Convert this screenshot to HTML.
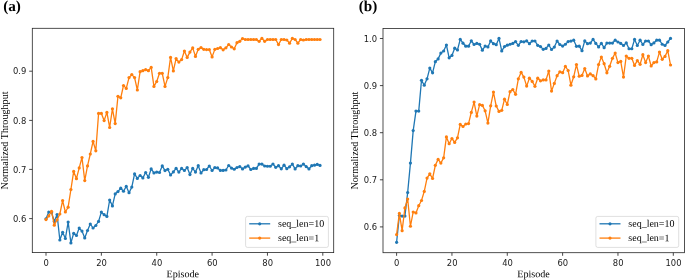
<!DOCTYPE html>
<html><head><meta charset="utf-8"><title>Normalized Throughput</title>
<style>
html,body{margin:0;padding:0;background:#fff;}
svg{display:block}
.tk{font-family:"DejaVu Sans","Liberation Sans",sans-serif;font-size:8.4px;fill:#1a1a1a}
.lb{font-family:"Liberation Serif",serif;font-size:10.15px;fill:#000}
.lg{font-family:"Liberation Serif",serif;font-size:10px;fill:#000}
.ti{font-family:"Liberation Serif",serif;font-size:15.2px;font-weight:bold;fill:#000}
</style></head><body>
<svg width="685" height="280" viewBox="0 0 685 280">
<rect width="685" height="280" fill="#fff"/>
<path d="M46.00 218.80 L48.77 212.00 L51.54 212.50 L54.30 221.40 L57.07 214.50 L59.84 240.00 L62.61 232.30 L65.38 238.50 L68.14 222.10 L70.91 242.90 L73.68 233.30 L76.45 235.50 L79.22 228.10 L81.98 231.10 L84.75 237.90 L87.52 230.50 L90.29 224.00 L93.06 228.00 L95.82 225.50 L98.59 221.40 L101.36 212.10 L104.13 214.70 L106.90 216.40 L109.66 200.00 L112.43 205.90 L115.20 193.90 L117.97 191.60 L120.74 188.20 L123.50 191.25 L126.27 186.40 L129.04 192.70 L131.81 187.10 L134.58 173.90 L137.34 178.40 L140.11 175.50 L142.88 177.90 L145.65 172.50 L148.42 177.30 L151.18 168.90 L153.95 172.90 L156.72 172.10 L159.49 172.50 L162.26 165.90 L165.02 170.60 L167.79 169.25 L170.56 175.00 L173.33 171.90 L176.10 168.40 L178.86 172.10 L181.63 168.40 L184.40 170.50 L187.17 167.60 L189.94 174.60 L192.70 168.40 L195.47 172.10 L198.24 165.70 L201.01 173.00 L203.78 169.70 L206.54 169.50 L209.31 166.00 L212.08 170.50 L214.85 167.60 L217.62 167.90 L220.38 170.40 L223.15 170.40 L225.92 170.00 L228.69 165.50 L231.46 168.10 L234.22 169.25 L236.99 167.50 L239.76 166.60 L242.53 168.90 L245.30 167.10 L248.06 165.90 L250.83 169.50 L253.60 168.40 L256.37 168.40 L259.14 164.10 L261.90 164.10 L264.67 166.00 L267.44 166.25 L270.21 166.25 L272.98 164.00 L275.74 167.30 L278.51 165.70 L281.28 168.80 L284.05 165.20 L286.82 168.70 L289.58 166.80 L292.35 164.10 L295.12 168.90 L297.89 165.70 L300.66 166.00 L303.42 164.10 L306.19 166.60 L308.96 168.90 L311.73 165.70 L314.50 165.20 L317.26 164.40 L320.03 165.40" fill="none" stroke="#1f77b4" stroke-width="1.3" stroke-linejoin="round" stroke-linecap="butt"/>
<g fill="#1f77b4"><circle cx="46.00" cy="218.80" r="1.6"/><circle cx="48.77" cy="212.00" r="1.6"/><circle cx="51.54" cy="212.50" r="1.6"/><circle cx="54.30" cy="221.40" r="1.6"/><circle cx="57.07" cy="214.50" r="1.6"/><circle cx="59.84" cy="240.00" r="1.6"/><circle cx="62.61" cy="232.30" r="1.6"/><circle cx="65.38" cy="238.50" r="1.6"/><circle cx="68.14" cy="222.10" r="1.6"/><circle cx="70.91" cy="242.90" r="1.6"/><circle cx="73.68" cy="233.30" r="1.6"/><circle cx="76.45" cy="235.50" r="1.6"/><circle cx="79.22" cy="228.10" r="1.6"/><circle cx="81.98" cy="231.10" r="1.6"/><circle cx="84.75" cy="237.90" r="1.6"/><circle cx="87.52" cy="230.50" r="1.6"/><circle cx="90.29" cy="224.00" r="1.6"/><circle cx="93.06" cy="228.00" r="1.6"/><circle cx="95.82" cy="225.50" r="1.6"/><circle cx="98.59" cy="221.40" r="1.6"/><circle cx="101.36" cy="212.10" r="1.6"/><circle cx="104.13" cy="214.70" r="1.6"/><circle cx="106.90" cy="216.40" r="1.6"/><circle cx="109.66" cy="200.00" r="1.6"/><circle cx="112.43" cy="205.90" r="1.6"/><circle cx="115.20" cy="193.90" r="1.6"/><circle cx="117.97" cy="191.60" r="1.6"/><circle cx="120.74" cy="188.20" r="1.6"/><circle cx="123.50" cy="191.25" r="1.6"/><circle cx="126.27" cy="186.40" r="1.6"/><circle cx="129.04" cy="192.70" r="1.6"/><circle cx="131.81" cy="187.10" r="1.6"/><circle cx="134.58" cy="173.90" r="1.6"/><circle cx="137.34" cy="178.40" r="1.6"/><circle cx="140.11" cy="175.50" r="1.6"/><circle cx="142.88" cy="177.90" r="1.6"/><circle cx="145.65" cy="172.50" r="1.6"/><circle cx="148.42" cy="177.30" r="1.6"/><circle cx="151.18" cy="168.90" r="1.6"/><circle cx="153.95" cy="172.90" r="1.6"/><circle cx="156.72" cy="172.10" r="1.6"/><circle cx="159.49" cy="172.50" r="1.6"/><circle cx="162.26" cy="165.90" r="1.6"/><circle cx="165.02" cy="170.60" r="1.6"/><circle cx="167.79" cy="169.25" r="1.6"/><circle cx="170.56" cy="175.00" r="1.6"/><circle cx="173.33" cy="171.90" r="1.6"/><circle cx="176.10" cy="168.40" r="1.6"/><circle cx="178.86" cy="172.10" r="1.6"/><circle cx="181.63" cy="168.40" r="1.6"/><circle cx="184.40" cy="170.50" r="1.6"/><circle cx="187.17" cy="167.60" r="1.6"/><circle cx="189.94" cy="174.60" r="1.6"/><circle cx="192.70" cy="168.40" r="1.6"/><circle cx="195.47" cy="172.10" r="1.6"/><circle cx="198.24" cy="165.70" r="1.6"/><circle cx="201.01" cy="173.00" r="1.6"/><circle cx="203.78" cy="169.70" r="1.6"/><circle cx="206.54" cy="169.50" r="1.6"/><circle cx="209.31" cy="166.00" r="1.6"/><circle cx="212.08" cy="170.50" r="1.6"/><circle cx="214.85" cy="167.60" r="1.6"/><circle cx="217.62" cy="167.90" r="1.6"/><circle cx="220.38" cy="170.40" r="1.6"/><circle cx="223.15" cy="170.40" r="1.6"/><circle cx="225.92" cy="170.00" r="1.6"/><circle cx="228.69" cy="165.50" r="1.6"/><circle cx="231.46" cy="168.10" r="1.6"/><circle cx="234.22" cy="169.25" r="1.6"/><circle cx="236.99" cy="167.50" r="1.6"/><circle cx="239.76" cy="166.60" r="1.6"/><circle cx="242.53" cy="168.90" r="1.6"/><circle cx="245.30" cy="167.10" r="1.6"/><circle cx="248.06" cy="165.90" r="1.6"/><circle cx="250.83" cy="169.50" r="1.6"/><circle cx="253.60" cy="168.40" r="1.6"/><circle cx="256.37" cy="168.40" r="1.6"/><circle cx="259.14" cy="164.10" r="1.6"/><circle cx="261.90" cy="164.10" r="1.6"/><circle cx="264.67" cy="166.00" r="1.6"/><circle cx="267.44" cy="166.25" r="1.6"/><circle cx="270.21" cy="166.25" r="1.6"/><circle cx="272.98" cy="164.00" r="1.6"/><circle cx="275.74" cy="167.30" r="1.6"/><circle cx="278.51" cy="165.70" r="1.6"/><circle cx="281.28" cy="168.80" r="1.6"/><circle cx="284.05" cy="165.20" r="1.6"/><circle cx="286.82" cy="168.70" r="1.6"/><circle cx="289.58" cy="166.80" r="1.6"/><circle cx="292.35" cy="164.10" r="1.6"/><circle cx="295.12" cy="168.90" r="1.6"/><circle cx="297.89" cy="165.70" r="1.6"/><circle cx="300.66" cy="166.00" r="1.6"/><circle cx="303.42" cy="164.10" r="1.6"/><circle cx="306.19" cy="166.60" r="1.6"/><circle cx="308.96" cy="168.90" r="1.6"/><circle cx="311.73" cy="165.70" r="1.6"/><circle cx="314.50" cy="165.20" r="1.6"/><circle cx="317.26" cy="164.40" r="1.6"/><circle cx="320.03" cy="165.40" r="1.6"/></g>
<path d="M46.00 219.60 L48.77 215.90 L51.54 211.25 L54.30 225.20 L57.07 219.80 L59.84 214.00 L62.61 200.60 L65.38 212.00 L68.14 207.20 L70.91 189.50 L73.68 171.40 L76.45 178.70 L79.22 167.90 L81.98 157.50 L84.75 180.60 L87.52 165.90 L90.29 154.00 L93.06 141.40 L95.82 150.80 L98.59 113.40 L101.36 113.40 L104.13 120.60 L106.90 112.40 L109.66 127.50 L112.43 108.80 L115.20 123.60 L117.97 96.30 L120.74 97.80 L123.50 85.50 L126.27 88.40 L129.04 77.60 L131.81 74.60 L134.58 77.60 L137.34 90.00 L140.11 71.70 L142.88 70.70 L145.65 69.70 L148.42 70.70 L151.18 67.40 L153.95 86.40 L156.72 81.50 L159.49 73.30 L162.26 73.30 L165.02 86.40 L167.79 77.60 L170.56 57.40 L173.33 70.90 L176.10 58.60 L178.86 62.10 L181.63 59.60 L184.40 51.00 L187.17 57.40 L189.94 52.10 L192.70 47.90 L195.47 56.40 L198.24 49.30 L201.01 47.60 L203.78 49.30 L206.54 49.60 L209.31 49.60 L212.08 56.90 L214.85 49.35 L217.62 48.50 L220.38 47.70 L223.15 49.80 L225.92 47.80 L228.69 44.50 L231.46 47.00 L234.22 48.80 L236.99 42.70 L239.76 41.30 L242.53 38.60 L245.30 39.50 L248.06 39.50 L250.83 39.50 L253.60 39.50 L256.37 39.50 L259.14 41.30 L261.90 38.40 L264.67 41.30 L267.44 39.50 L270.21 39.50 L272.98 39.50 L275.74 39.50 L278.51 44.60 L281.28 39.50 L284.05 39.50 L286.82 40.00 L289.58 43.20 L292.35 38.40 L295.12 39.50 L297.89 43.20 L300.66 39.50 L303.42 40.00 L306.19 39.50 L308.96 39.50 L311.73 39.50 L314.50 39.50 L317.26 39.50 L320.03 39.50" fill="none" stroke="#ff7f0e" stroke-width="1.3" stroke-linejoin="round" stroke-linecap="butt"/>
<g fill="#ff7f0e"><circle cx="46.00" cy="219.60" r="1.6"/><circle cx="48.77" cy="215.90" r="1.6"/><circle cx="51.54" cy="211.25" r="1.6"/><circle cx="54.30" cy="225.20" r="1.6"/><circle cx="57.07" cy="219.80" r="1.6"/><circle cx="59.84" cy="214.00" r="1.6"/><circle cx="62.61" cy="200.60" r="1.6"/><circle cx="65.38" cy="212.00" r="1.6"/><circle cx="68.14" cy="207.20" r="1.6"/><circle cx="70.91" cy="189.50" r="1.6"/><circle cx="73.68" cy="171.40" r="1.6"/><circle cx="76.45" cy="178.70" r="1.6"/><circle cx="79.22" cy="167.90" r="1.6"/><circle cx="81.98" cy="157.50" r="1.6"/><circle cx="84.75" cy="180.60" r="1.6"/><circle cx="87.52" cy="165.90" r="1.6"/><circle cx="90.29" cy="154.00" r="1.6"/><circle cx="93.06" cy="141.40" r="1.6"/><circle cx="95.82" cy="150.80" r="1.6"/><circle cx="98.59" cy="113.40" r="1.6"/><circle cx="101.36" cy="113.40" r="1.6"/><circle cx="104.13" cy="120.60" r="1.6"/><circle cx="106.90" cy="112.40" r="1.6"/><circle cx="109.66" cy="127.50" r="1.6"/><circle cx="112.43" cy="108.80" r="1.6"/><circle cx="115.20" cy="123.60" r="1.6"/><circle cx="117.97" cy="96.30" r="1.6"/><circle cx="120.74" cy="97.80" r="1.6"/><circle cx="123.50" cy="85.50" r="1.6"/><circle cx="126.27" cy="88.40" r="1.6"/><circle cx="129.04" cy="77.60" r="1.6"/><circle cx="131.81" cy="74.60" r="1.6"/><circle cx="134.58" cy="77.60" r="1.6"/><circle cx="137.34" cy="90.00" r="1.6"/><circle cx="140.11" cy="71.70" r="1.6"/><circle cx="142.88" cy="70.70" r="1.6"/><circle cx="145.65" cy="69.70" r="1.6"/><circle cx="148.42" cy="70.70" r="1.6"/><circle cx="151.18" cy="67.40" r="1.6"/><circle cx="153.95" cy="86.40" r="1.6"/><circle cx="156.72" cy="81.50" r="1.6"/><circle cx="159.49" cy="73.30" r="1.6"/><circle cx="162.26" cy="73.30" r="1.6"/><circle cx="165.02" cy="86.40" r="1.6"/><circle cx="167.79" cy="77.60" r="1.6"/><circle cx="170.56" cy="57.40" r="1.6"/><circle cx="173.33" cy="70.90" r="1.6"/><circle cx="176.10" cy="58.60" r="1.6"/><circle cx="178.86" cy="62.10" r="1.6"/><circle cx="181.63" cy="59.60" r="1.6"/><circle cx="184.40" cy="51.00" r="1.6"/><circle cx="187.17" cy="57.40" r="1.6"/><circle cx="189.94" cy="52.10" r="1.6"/><circle cx="192.70" cy="47.90" r="1.6"/><circle cx="195.47" cy="56.40" r="1.6"/><circle cx="198.24" cy="49.30" r="1.6"/><circle cx="201.01" cy="47.60" r="1.6"/><circle cx="203.78" cy="49.30" r="1.6"/><circle cx="206.54" cy="49.60" r="1.6"/><circle cx="209.31" cy="49.60" r="1.6"/><circle cx="212.08" cy="56.90" r="1.6"/><circle cx="214.85" cy="49.35" r="1.6"/><circle cx="217.62" cy="48.50" r="1.6"/><circle cx="220.38" cy="47.70" r="1.6"/><circle cx="223.15" cy="49.80" r="1.6"/><circle cx="225.92" cy="47.80" r="1.6"/><circle cx="228.69" cy="44.50" r="1.6"/><circle cx="231.46" cy="47.00" r="1.6"/><circle cx="234.22" cy="48.80" r="1.6"/><circle cx="236.99" cy="42.70" r="1.6"/><circle cx="239.76" cy="41.30" r="1.6"/><circle cx="242.53" cy="38.60" r="1.6"/><circle cx="245.30" cy="39.50" r="1.6"/><circle cx="248.06" cy="39.50" r="1.6"/><circle cx="250.83" cy="39.50" r="1.6"/><circle cx="253.60" cy="39.50" r="1.6"/><circle cx="256.37" cy="39.50" r="1.6"/><circle cx="259.14" cy="41.30" r="1.6"/><circle cx="261.90" cy="38.40" r="1.6"/><circle cx="264.67" cy="41.30" r="1.6"/><circle cx="267.44" cy="39.50" r="1.6"/><circle cx="270.21" cy="39.50" r="1.6"/><circle cx="272.98" cy="39.50" r="1.6"/><circle cx="275.74" cy="39.50" r="1.6"/><circle cx="278.51" cy="44.60" r="1.6"/><circle cx="281.28" cy="39.50" r="1.6"/><circle cx="284.05" cy="39.50" r="1.6"/><circle cx="286.82" cy="40.00" r="1.6"/><circle cx="289.58" cy="43.20" r="1.6"/><circle cx="292.35" cy="38.40" r="1.6"/><circle cx="295.12" cy="39.50" r="1.6"/><circle cx="297.89" cy="43.20" r="1.6"/><circle cx="300.66" cy="39.50" r="1.6"/><circle cx="303.42" cy="40.00" r="1.6"/><circle cx="306.19" cy="39.50" r="1.6"/><circle cx="308.96" cy="39.50" r="1.6"/><circle cx="311.73" cy="39.50" r="1.6"/><circle cx="314.50" cy="39.50" r="1.6"/><circle cx="317.26" cy="39.50" r="1.6"/><circle cx="320.03" cy="39.50" r="1.6"/></g>
<rect x="32.3" y="28.3" width="301.40" height="224.30" fill="none" stroke="#262626" stroke-width="0.8"/>
<line x1="46.00" y1="252.6" x2="46.00" y2="255.70" stroke="#262626" stroke-width="0.85"/><text transform="translate(46.20,265.50) scale(1.002,0.998)" class="tk" text-anchor="middle">0</text>
<line x1="101.36" y1="252.6" x2="101.36" y2="255.70" stroke="#262626" stroke-width="0.85"/><text transform="translate(101.56,265.50) scale(1.002,0.998)" class="tk" text-anchor="middle">20</text>
<line x1="156.72" y1="252.6" x2="156.72" y2="255.70" stroke="#262626" stroke-width="0.85"/><text transform="translate(156.92,265.50) scale(1.002,0.998)" class="tk" text-anchor="middle">40</text>
<line x1="212.08" y1="252.6" x2="212.08" y2="255.70" stroke="#262626" stroke-width="0.85"/><text transform="translate(212.28,265.50) scale(1.002,0.998)" class="tk" text-anchor="middle">60</text>
<line x1="267.44" y1="252.6" x2="267.44" y2="255.70" stroke="#262626" stroke-width="0.85"/><text transform="translate(267.64,265.50) scale(1.002,0.998)" class="tk" text-anchor="middle">80</text>
<line x1="322.80" y1="252.6" x2="322.80" y2="255.70" stroke="#262626" stroke-width="0.85"/><text transform="translate(323.00,265.50) scale(1.002,0.998)" class="tk" text-anchor="middle">100</text>
<line x1="29.20" y1="71.20" x2="32.3" y2="71.20" stroke="#262626" stroke-width="0.85"/><text transform="translate(26.40,74.30) scale(1.002,0.998)" class="tk" text-anchor="end">0.9</text>
<line x1="29.20" y1="120.40" x2="32.3" y2="120.40" stroke="#262626" stroke-width="0.85"/><text transform="translate(26.40,123.50) scale(1.002,0.998)" class="tk" text-anchor="end">0.8</text>
<line x1="29.20" y1="169.40" x2="32.3" y2="169.40" stroke="#262626" stroke-width="0.85"/><text transform="translate(26.40,172.50) scale(1.002,0.998)" class="tk" text-anchor="end">0.7</text>
<line x1="29.20" y1="218.60" x2="32.3" y2="218.60" stroke="#262626" stroke-width="0.85"/><text transform="translate(26.40,221.70) scale(1.002,0.998)" class="tk" text-anchor="end">0.6</text>
<text transform="translate(182.80,277.2) rotate(0.05)" class="lb" text-anchor="middle">Episode</text>
<text transform="translate(8.0,140.45) rotate(-90)" class="lb" text-anchor="middle">Normalized Throughput</text>
<text transform="translate(3.2,11.1) rotate(0.05)" class="ti">(a)</text>
<rect x="245.6" y="216.4" width="82.8" height="31" rx="1.8" fill="#fff" fill-opacity="0.8" stroke="#cccccc" stroke-opacity="0.8" stroke-width="0.8"/>
<line x1="249.20" y1="223.80" x2="270.20" y2="223.80" stroke="#1f77b4" stroke-width="1.3"/><circle cx="259.70" cy="223.80" r="1.6" fill="#1f77b4"/><text transform="translate(278.00,226.80) rotate(0.05)" class="lg">seq_len=10</text>
<line x1="249.20" y1="238.10" x2="270.20" y2="238.10" stroke="#ff7f0e" stroke-width="1.3"/><circle cx="259.70" cy="238.10" r="1.6" fill="#ff7f0e"/><text transform="translate(278.00,241.10) rotate(0.05)" class="lg">seq_len=1</text>
<path d="M396.60 242.30 L399.37 215.50 L402.13 216.10 L404.90 216.10 L407.67 192.50 L410.44 163.10 L413.20 130.60 L415.97 111.10 L418.74 111.10 L421.50 80.30 L424.27 85.20 L427.04 78.80 L429.80 68.10 L432.57 72.80 L435.34 61.70 L438.11 58.90 L440.87 53.10 L443.64 51.00 L446.41 45.00 L449.17 57.80 L451.94 55.40 L454.71 48.20 L457.47 50.00 L460.24 39.40 L463.01 43.20 L465.78 46.20 L468.54 46.20 L471.31 40.80 L474.08 44.50 L476.84 43.40 L479.61 44.25 L482.38 50.15 L485.14 46.10 L487.91 46.90 L490.68 40.90 L493.45 43.70 L496.21 44.70 L498.98 38.40 L501.75 50.90 L504.51 46.60 L507.28 45.20 L510.05 44.25 L512.81 43.40 L515.58 41.60 L518.35 45.30 L521.12 41.50 L523.88 41.80 L526.65 40.90 L529.42 43.70 L532.18 41.00 L534.95 41.00 L537.72 45.30 L540.48 46.60 L543.25 49.30 L546.02 48.40 L548.79 45.00 L551.55 49.50 L554.32 47.10 L557.09 41.00 L559.85 44.50 L562.62 46.10 L565.39 44.25 L568.15 41.60 L570.92 41.10 L573.69 40.20 L576.46 46.30 L579.22 46.20 L581.99 50.70 L584.76 40.90 L587.52 43.70 L590.29 43.10 L593.06 39.40 L595.82 43.40 L598.59 46.90 L601.36 43.40 L604.12 47.70 L606.89 43.10 L609.66 43.10 L612.43 43.10 L615.19 40.20 L617.96 42.00 L620.73 43.40 L623.49 45.50 L626.26 42.90 L629.03 48.75 L631.80 48.75 L634.56 39.40 L637.33 45.50 L640.10 40.20 L642.86 44.50 L645.63 41.00 L648.40 41.00 L651.16 44.70 L653.93 42.90 L656.70 40.20 L659.47 40.20 L662.23 44.25 L665.00 45.50 L667.77 42.00 L670.53 38.40" fill="none" stroke="#1f77b4" stroke-width="1.3" stroke-linejoin="round" stroke-linecap="butt"/>
<g fill="#1f77b4"><circle cx="396.60" cy="242.30" r="1.6"/><circle cx="399.37" cy="215.50" r="1.6"/><circle cx="402.13" cy="216.10" r="1.6"/><circle cx="404.90" cy="216.10" r="1.6"/><circle cx="407.67" cy="192.50" r="1.6"/><circle cx="410.44" cy="163.10" r="1.6"/><circle cx="413.20" cy="130.60" r="1.6"/><circle cx="415.97" cy="111.10" r="1.6"/><circle cx="418.74" cy="111.10" r="1.6"/><circle cx="421.50" cy="80.30" r="1.6"/><circle cx="424.27" cy="85.20" r="1.6"/><circle cx="427.04" cy="78.80" r="1.6"/><circle cx="429.80" cy="68.10" r="1.6"/><circle cx="432.57" cy="72.80" r="1.6"/><circle cx="435.34" cy="61.70" r="1.6"/><circle cx="438.11" cy="58.90" r="1.6"/><circle cx="440.87" cy="53.10" r="1.6"/><circle cx="443.64" cy="51.00" r="1.6"/><circle cx="446.41" cy="45.00" r="1.6"/><circle cx="449.17" cy="57.80" r="1.6"/><circle cx="451.94" cy="55.40" r="1.6"/><circle cx="454.71" cy="48.20" r="1.6"/><circle cx="457.47" cy="50.00" r="1.6"/><circle cx="460.24" cy="39.40" r="1.6"/><circle cx="463.01" cy="43.20" r="1.6"/><circle cx="465.78" cy="46.20" r="1.6"/><circle cx="468.54" cy="46.20" r="1.6"/><circle cx="471.31" cy="40.80" r="1.6"/><circle cx="474.08" cy="44.50" r="1.6"/><circle cx="476.84" cy="43.40" r="1.6"/><circle cx="479.61" cy="44.25" r="1.6"/><circle cx="482.38" cy="50.15" r="1.6"/><circle cx="485.14" cy="46.10" r="1.6"/><circle cx="487.91" cy="46.90" r="1.6"/><circle cx="490.68" cy="40.90" r="1.6"/><circle cx="493.45" cy="43.70" r="1.6"/><circle cx="496.21" cy="44.70" r="1.6"/><circle cx="498.98" cy="38.40" r="1.6"/><circle cx="501.75" cy="50.90" r="1.6"/><circle cx="504.51" cy="46.60" r="1.6"/><circle cx="507.28" cy="45.20" r="1.6"/><circle cx="510.05" cy="44.25" r="1.6"/><circle cx="512.81" cy="43.40" r="1.6"/><circle cx="515.58" cy="41.60" r="1.6"/><circle cx="518.35" cy="45.30" r="1.6"/><circle cx="521.12" cy="41.50" r="1.6"/><circle cx="523.88" cy="41.80" r="1.6"/><circle cx="526.65" cy="40.90" r="1.6"/><circle cx="529.42" cy="43.70" r="1.6"/><circle cx="532.18" cy="41.00" r="1.6"/><circle cx="534.95" cy="41.00" r="1.6"/><circle cx="537.72" cy="45.30" r="1.6"/><circle cx="540.48" cy="46.60" r="1.6"/><circle cx="543.25" cy="49.30" r="1.6"/><circle cx="546.02" cy="48.40" r="1.6"/><circle cx="548.79" cy="45.00" r="1.6"/><circle cx="551.55" cy="49.50" r="1.6"/><circle cx="554.32" cy="47.10" r="1.6"/><circle cx="557.09" cy="41.00" r="1.6"/><circle cx="559.85" cy="44.50" r="1.6"/><circle cx="562.62" cy="46.10" r="1.6"/><circle cx="565.39" cy="44.25" r="1.6"/><circle cx="568.15" cy="41.60" r="1.6"/><circle cx="570.92" cy="41.10" r="1.6"/><circle cx="573.69" cy="40.20" r="1.6"/><circle cx="576.46" cy="46.30" r="1.6"/><circle cx="579.22" cy="46.20" r="1.6"/><circle cx="581.99" cy="50.70" r="1.6"/><circle cx="584.76" cy="40.90" r="1.6"/><circle cx="587.52" cy="43.70" r="1.6"/><circle cx="590.29" cy="43.10" r="1.6"/><circle cx="593.06" cy="39.40" r="1.6"/><circle cx="595.82" cy="43.40" r="1.6"/><circle cx="598.59" cy="46.90" r="1.6"/><circle cx="601.36" cy="43.40" r="1.6"/><circle cx="604.12" cy="47.70" r="1.6"/><circle cx="606.89" cy="43.10" r="1.6"/><circle cx="609.66" cy="43.10" r="1.6"/><circle cx="612.43" cy="43.10" r="1.6"/><circle cx="615.19" cy="40.20" r="1.6"/><circle cx="617.96" cy="42.00" r="1.6"/><circle cx="620.73" cy="43.40" r="1.6"/><circle cx="623.49" cy="45.50" r="1.6"/><circle cx="626.26" cy="42.90" r="1.6"/><circle cx="629.03" cy="48.75" r="1.6"/><circle cx="631.80" cy="48.75" r="1.6"/><circle cx="634.56" cy="39.40" r="1.6"/><circle cx="637.33" cy="45.50" r="1.6"/><circle cx="640.10" cy="40.20" r="1.6"/><circle cx="642.86" cy="44.50" r="1.6"/><circle cx="645.63" cy="41.00" r="1.6"/><circle cx="648.40" cy="41.00" r="1.6"/><circle cx="651.16" cy="44.70" r="1.6"/><circle cx="653.93" cy="42.90" r="1.6"/><circle cx="656.70" cy="40.20" r="1.6"/><circle cx="659.47" cy="40.20" r="1.6"/><circle cx="662.23" cy="44.25" r="1.6"/><circle cx="665.00" cy="45.50" r="1.6"/><circle cx="667.77" cy="42.00" r="1.6"/><circle cx="670.53" cy="38.40" r="1.6"/></g>
<path d="M396.60 234.60 L399.37 213.40 L402.13 230.70 L404.90 207.90 L407.67 199.00 L410.44 226.25 L413.20 212.00 L415.97 212.90 L418.74 205.70 L421.50 200.50 L424.27 191.40 L427.04 178.10 L429.80 173.80 L432.57 178.50 L435.34 165.30 L438.11 159.40 L440.87 163.10 L443.64 157.80 L446.41 136.90 L449.17 143.70 L451.94 138.50 L454.71 142.40 L457.47 137.80 L460.24 124.40 L463.01 126.50 L465.78 124.00 L468.54 123.60 L471.31 112.40 L474.08 102.10 L476.84 116.10 L479.61 104.70 L482.38 105.40 L485.14 110.80 L487.91 123.10 L490.68 105.80 L493.45 92.10 L496.21 106.00 L498.98 111.40 L501.75 110.30 L504.51 99.20 L507.28 104.50 L510.05 91.70 L512.81 89.60 L515.58 94.30 L518.35 78.80 L521.12 72.40 L523.88 77.10 L526.65 86.10 L529.42 78.20 L532.18 81.40 L534.95 86.30 L537.72 78.20 L540.48 80.80 L543.25 79.90 L546.02 79.90 L548.79 71.00 L551.55 91.10 L554.32 83.40 L557.09 75.70 L559.85 71.80 L562.62 72.70 L565.39 66.40 L568.15 70.50 L570.92 85.20 L573.69 76.80 L576.46 64.60 L579.22 76.25 L581.99 75.40 L584.76 68.60 L587.52 75.90 L590.29 73.90 L593.06 75.70 L595.82 78.90 L598.59 64.60 L601.36 57.10 L604.12 63.70 L606.89 72.80 L609.66 66.30 L612.43 58.30 L615.19 53.10 L617.96 62.60 L620.73 61.40 L623.49 77.10 L626.26 56.00 L629.03 58.30 L631.80 58.30 L634.56 65.40 L637.33 60.70 L640.10 64.30 L642.86 54.70 L645.63 62.60 L648.40 56.10 L651.16 66.00 L653.93 62.60 L656.70 61.90 L659.47 52.10 L662.23 59.30 L665.00 56.40 L667.77 50.70 L670.53 65.00" fill="none" stroke="#ff7f0e" stroke-width="1.3" stroke-linejoin="round" stroke-linecap="butt"/>
<g fill="#ff7f0e"><circle cx="396.60" cy="234.60" r="1.6"/><circle cx="399.37" cy="213.40" r="1.6"/><circle cx="402.13" cy="230.70" r="1.6"/><circle cx="404.90" cy="207.90" r="1.6"/><circle cx="407.67" cy="199.00" r="1.6"/><circle cx="410.44" cy="226.25" r="1.6"/><circle cx="413.20" cy="212.00" r="1.6"/><circle cx="415.97" cy="212.90" r="1.6"/><circle cx="418.74" cy="205.70" r="1.6"/><circle cx="421.50" cy="200.50" r="1.6"/><circle cx="424.27" cy="191.40" r="1.6"/><circle cx="427.04" cy="178.10" r="1.6"/><circle cx="429.80" cy="173.80" r="1.6"/><circle cx="432.57" cy="178.50" r="1.6"/><circle cx="435.34" cy="165.30" r="1.6"/><circle cx="438.11" cy="159.40" r="1.6"/><circle cx="440.87" cy="163.10" r="1.6"/><circle cx="443.64" cy="157.80" r="1.6"/><circle cx="446.41" cy="136.90" r="1.6"/><circle cx="449.17" cy="143.70" r="1.6"/><circle cx="451.94" cy="138.50" r="1.6"/><circle cx="454.71" cy="142.40" r="1.6"/><circle cx="457.47" cy="137.80" r="1.6"/><circle cx="460.24" cy="124.40" r="1.6"/><circle cx="463.01" cy="126.50" r="1.6"/><circle cx="465.78" cy="124.00" r="1.6"/><circle cx="468.54" cy="123.60" r="1.6"/><circle cx="471.31" cy="112.40" r="1.6"/><circle cx="474.08" cy="102.10" r="1.6"/><circle cx="476.84" cy="116.10" r="1.6"/><circle cx="479.61" cy="104.70" r="1.6"/><circle cx="482.38" cy="105.40" r="1.6"/><circle cx="485.14" cy="110.80" r="1.6"/><circle cx="487.91" cy="123.10" r="1.6"/><circle cx="490.68" cy="105.80" r="1.6"/><circle cx="493.45" cy="92.10" r="1.6"/><circle cx="496.21" cy="106.00" r="1.6"/><circle cx="498.98" cy="111.40" r="1.6"/><circle cx="501.75" cy="110.30" r="1.6"/><circle cx="504.51" cy="99.20" r="1.6"/><circle cx="507.28" cy="104.50" r="1.6"/><circle cx="510.05" cy="91.70" r="1.6"/><circle cx="512.81" cy="89.60" r="1.6"/><circle cx="515.58" cy="94.30" r="1.6"/><circle cx="518.35" cy="78.80" r="1.6"/><circle cx="521.12" cy="72.40" r="1.6"/><circle cx="523.88" cy="77.10" r="1.6"/><circle cx="526.65" cy="86.10" r="1.6"/><circle cx="529.42" cy="78.20" r="1.6"/><circle cx="532.18" cy="81.40" r="1.6"/><circle cx="534.95" cy="86.30" r="1.6"/><circle cx="537.72" cy="78.20" r="1.6"/><circle cx="540.48" cy="80.80" r="1.6"/><circle cx="543.25" cy="79.90" r="1.6"/><circle cx="546.02" cy="79.90" r="1.6"/><circle cx="548.79" cy="71.00" r="1.6"/><circle cx="551.55" cy="91.10" r="1.6"/><circle cx="554.32" cy="83.40" r="1.6"/><circle cx="557.09" cy="75.70" r="1.6"/><circle cx="559.85" cy="71.80" r="1.6"/><circle cx="562.62" cy="72.70" r="1.6"/><circle cx="565.39" cy="66.40" r="1.6"/><circle cx="568.15" cy="70.50" r="1.6"/><circle cx="570.92" cy="85.20" r="1.6"/><circle cx="573.69" cy="76.80" r="1.6"/><circle cx="576.46" cy="64.60" r="1.6"/><circle cx="579.22" cy="76.25" r="1.6"/><circle cx="581.99" cy="75.40" r="1.6"/><circle cx="584.76" cy="68.60" r="1.6"/><circle cx="587.52" cy="75.90" r="1.6"/><circle cx="590.29" cy="73.90" r="1.6"/><circle cx="593.06" cy="75.70" r="1.6"/><circle cx="595.82" cy="78.90" r="1.6"/><circle cx="598.59" cy="64.60" r="1.6"/><circle cx="601.36" cy="57.10" r="1.6"/><circle cx="604.12" cy="63.70" r="1.6"/><circle cx="606.89" cy="72.80" r="1.6"/><circle cx="609.66" cy="66.30" r="1.6"/><circle cx="612.43" cy="58.30" r="1.6"/><circle cx="615.19" cy="53.10" r="1.6"/><circle cx="617.96" cy="62.60" r="1.6"/><circle cx="620.73" cy="61.40" r="1.6"/><circle cx="623.49" cy="77.10" r="1.6"/><circle cx="626.26" cy="56.00" r="1.6"/><circle cx="629.03" cy="58.30" r="1.6"/><circle cx="631.80" cy="58.30" r="1.6"/><circle cx="634.56" cy="65.40" r="1.6"/><circle cx="637.33" cy="60.70" r="1.6"/><circle cx="640.10" cy="64.30" r="1.6"/><circle cx="642.86" cy="54.70" r="1.6"/><circle cx="645.63" cy="62.60" r="1.6"/><circle cx="648.40" cy="56.10" r="1.6"/><circle cx="651.16" cy="66.00" r="1.6"/><circle cx="653.93" cy="62.60" r="1.6"/><circle cx="656.70" cy="61.90" r="1.6"/><circle cx="659.47" cy="52.10" r="1.6"/><circle cx="662.23" cy="59.30" r="1.6"/><circle cx="665.00" cy="56.40" r="1.6"/><circle cx="667.77" cy="50.70" r="1.6"/><circle cx="670.53" cy="65.00" r="1.6"/></g>
<rect x="383.0" y="28.5" width="301.50" height="224.20" fill="none" stroke="#262626" stroke-width="0.8"/>
<line x1="396.60" y1="252.7" x2="396.60" y2="255.80" stroke="#262626" stroke-width="0.85"/><text transform="translate(396.80,265.60) scale(1.002,0.998)" class="tk" text-anchor="middle">0</text>
<line x1="451.94" y1="252.7" x2="451.94" y2="255.80" stroke="#262626" stroke-width="0.85"/><text transform="translate(452.14,265.60) scale(1.002,0.998)" class="tk" text-anchor="middle">20</text>
<line x1="507.28" y1="252.7" x2="507.28" y2="255.80" stroke="#262626" stroke-width="0.85"/><text transform="translate(507.48,265.60) scale(1.002,0.998)" class="tk" text-anchor="middle">40</text>
<line x1="562.62" y1="252.7" x2="562.62" y2="255.80" stroke="#262626" stroke-width="0.85"/><text transform="translate(562.82,265.60) scale(1.002,0.998)" class="tk" text-anchor="middle">60</text>
<line x1="617.96" y1="252.7" x2="617.96" y2="255.80" stroke="#262626" stroke-width="0.85"/><text transform="translate(618.16,265.60) scale(1.002,0.998)" class="tk" text-anchor="middle">80</text>
<line x1="673.30" y1="252.7" x2="673.30" y2="255.80" stroke="#262626" stroke-width="0.85"/><text transform="translate(673.50,265.60) scale(1.002,0.998)" class="tk" text-anchor="middle">100</text>
<line x1="379.90" y1="38.50" x2="383.0" y2="38.50" stroke="#262626" stroke-width="0.85"/><text transform="translate(377.10,41.60) scale(1.002,0.998)" class="tk" text-anchor="end">1.0</text>
<line x1="379.90" y1="85.60" x2="383.0" y2="85.60" stroke="#262626" stroke-width="0.85"/><text transform="translate(377.10,88.70) scale(1.002,0.998)" class="tk" text-anchor="end">0.9</text>
<line x1="379.90" y1="132.70" x2="383.0" y2="132.70" stroke="#262626" stroke-width="0.85"/><text transform="translate(377.10,135.80) scale(1.002,0.998)" class="tk" text-anchor="end">0.8</text>
<line x1="379.90" y1="179.80" x2="383.0" y2="179.80" stroke="#262626" stroke-width="0.85"/><text transform="translate(377.10,182.90) scale(1.002,0.998)" class="tk" text-anchor="end">0.7</text>
<line x1="379.90" y1="226.90" x2="383.0" y2="226.90" stroke="#262626" stroke-width="0.85"/><text transform="translate(377.10,230.00) scale(1.002,0.998)" class="tk" text-anchor="end">0.6</text>
<text transform="translate(533.55,277.2) rotate(0.05)" class="lb" text-anchor="middle">Episode</text>
<text transform="translate(358.2,140.60) rotate(-90)" class="lb" text-anchor="middle">Normalized Throughput</text>
<text transform="translate(358.7,11.1) rotate(0.05)" class="ti">(b)</text>
<rect x="595.9" y="216.4" width="82.8" height="31" rx="1.8" fill="#fff" fill-opacity="0.8" stroke="#cccccc" stroke-opacity="0.8" stroke-width="0.8"/>
<line x1="599.50" y1="223.80" x2="620.50" y2="223.80" stroke="#1f77b4" stroke-width="1.3"/><circle cx="610.00" cy="223.80" r="1.6" fill="#1f77b4"/><text transform="translate(628.30,226.80) rotate(0.05)" class="lg">seq_len=10</text>
<line x1="599.50" y1="238.10" x2="620.50" y2="238.10" stroke="#ff7f0e" stroke-width="1.3"/><circle cx="610.00" cy="238.10" r="1.6" fill="#ff7f0e"/><text transform="translate(628.30,241.10) rotate(0.05)" class="lg">seq_len=1</text>
</svg>
</body></html>
